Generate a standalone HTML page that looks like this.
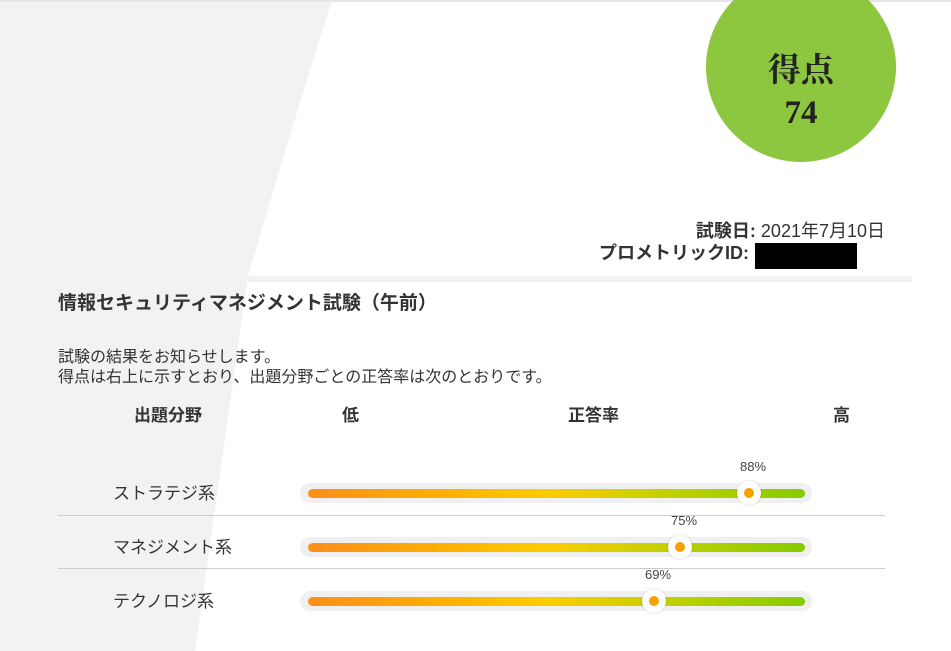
<!DOCTYPE html>
<html><head><meta charset="utf-8"><style>
body{margin:0;width:951px;height:651px;overflow:hidden;background:#fff;font-family:"Liberation Sans","Noto Sans CJK JP",sans-serif;color:#333;position:relative}
.a{position:absolute;white-space:nowrap}
.track{position:absolute;left:300px;width:512px;height:20px;border-radius:10px;background:#f0f0f0}
.bar{position:absolute;left:8px;right:7px;top:6px;height:9px;border-radius:5px;background:linear-gradient(90deg,#fb8f1a 0%,#fdb300 30%,#fdcc00 48%,#c8d000 70%,#84cc00 100%)}
.knob{position:absolute;top:-2px;width:24px;height:24px;margin-left:-12px;border-radius:50%;background:#fff;box-shadow:0 0 2px rgba(0,0,0,.2)}
.knob:after{content:"";position:absolute;left:7px;top:7px;width:10px;height:10px;border-radius:50%;background:#f7a100}
.pct{position:absolute;top:-24px;font-size:13px;color:#444;transform:translateX(-50%)}
.hr{position:absolute;left:58px;width:827px;height:1px;background:#ccc}
</style></head><body>
<svg class="a" style="left:0;top:0" width="951" height="651"><path d="M0 0 L332 0 Q300 100 248 276 L195 651 L0 651 Z" fill="#f2f2f2"/><rect x="0" y="0" width="951" height="2" fill="#e6e6e6"/><rect x="248" y="276" width="664" height="6" fill="#f2f2f2"/>
<circle cx="801" cy="67" r="95" fill="#8dc63f"/></svg>
<div class="a" style="left:0;width:1602px;top:50px;text-align:center;font-family:'Liberation Serif','Noto Serif CJK SC',serif;font-weight:bold;font-size:33px;color:#222;line-height:42px">得点<br>74</div>
<div class="a" style="right:66px;top:217px;font-size:18px"><b>試験日:</b> 2021年7月10日</div>
<div class="a" style="right:202px;top:239px;font-size:18px"><b>プロメトリックID:</b></div>
<div class="a" style="left:755px;top:243px;width:102px;height:26px;background:#000"></div>
<div class="a" style="left:58px;top:288px;font-size:19px;font-weight:bold">情報セキュリティマネジメント試験（午前）</div>
<div class="a" style="left:58px;top:348px;font-size:16px;line-height:20px">試験の結果をお知らせします。<br>得点は右上に示すとおり、出題分野ごとの正答率は次のとおりです。</div>
<div class="a" style="left:134px;top:401px;font-size:17px;font-weight:bold">出題分野</div>
<div class="a" style="left:342px;top:401px;font-size:17px;font-weight:bold">低</div>
<div class="a" style="left:568px;top:401px;font-size:17px;font-weight:bold">正答率</div>
<div class="a" style="left:833px;top:401px;font-size:17px;font-weight:bold">高</div>
<div class="a" style="left:113px;top:479px;font-size:17px">ストラテジ系</div>
<div class="a" style="left:113px;top:533px;font-size:17px">マネジメント系</div>
<div class="a" style="left:113px;top:587px;font-size:17px">テクノロジ系</div>
<div class="hr" style="top:515px"></div><div class="hr" style="top:568px"></div>
<div class="track" style="top:483px"><div class="bar"></div><div class="knob" style="left:449px"></div><div class="pct" style="left:453px">88%</div></div>
<div class="track" style="top:537px"><div class="bar"></div><div class="knob" style="left:380px"></div><div class="pct" style="left:384px">75%</div></div>
<div class="track" style="top:591px"><div class="bar"></div><div class="knob" style="left:354px"></div><div class="pct" style="left:358px">69%</div></div>
</body></html>
